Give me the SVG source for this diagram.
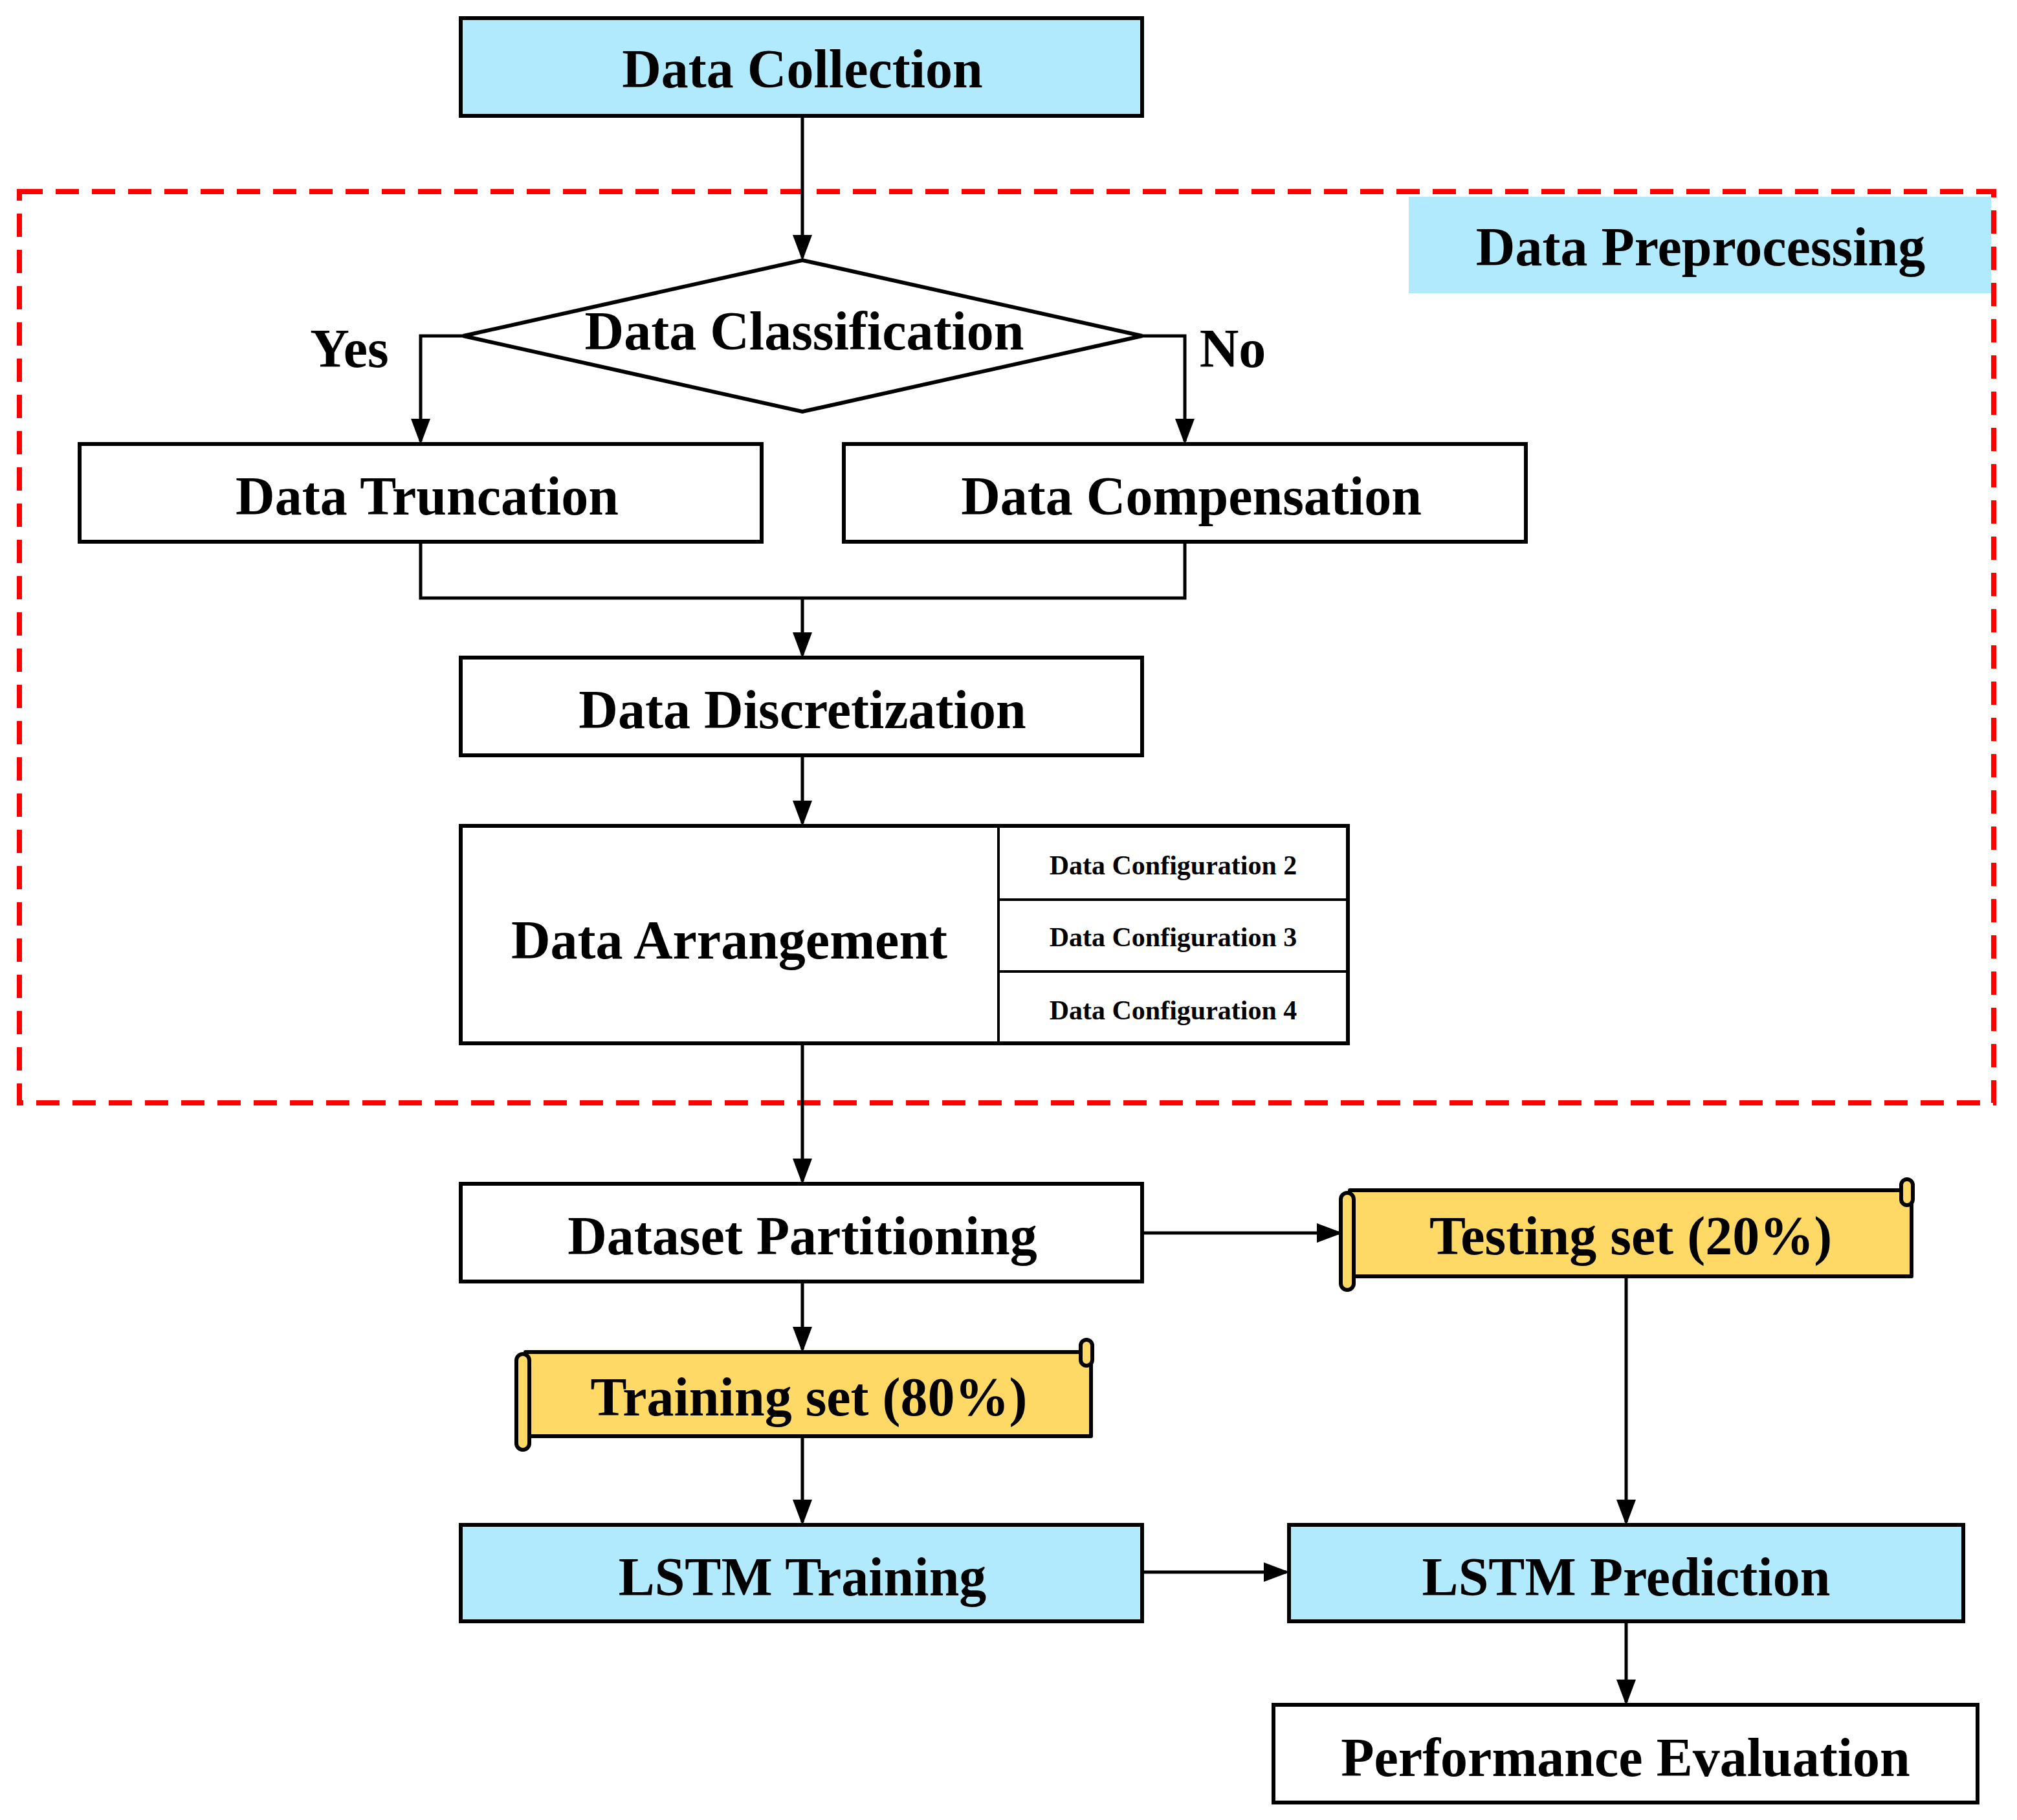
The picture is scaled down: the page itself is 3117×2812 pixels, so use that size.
<svg xmlns="http://www.w3.org/2000/svg" width="3117" height="2812" viewBox="0 0 3117 2812">
<defs>
<marker id="ah" markerWidth="8" markerHeight="8" refX="7" refY="4" orient="auto" markerUnits="strokeWidth"><path d="M0,1 L8,4 L0,7 Z" fill="#000"/></marker>
<style>
.box{stroke:#000;stroke-width:6;fill:#fff}
.blue{fill:#B0EAFC}
.yel{fill:#FFD966;stroke:#000;stroke-width:6;stroke-linejoin:round}
.t{font-family:"Liberation Serif",serif;font-weight:bold;font-size:84px;text-anchor:middle;fill:#000}
.s{font-family:"Liberation Serif",serif;font-weight:bold;font-size:42px;text-anchor:middle;fill:#000}
.c{stroke:#000;stroke-width:5;fill:none}
</style>
</defs>
<rect width="3117" height="2812" fill="#fff"/>
<g id="preprocessing">
<rect x="30" y="296" width="3051" height="1408" fill="none" stroke="#FF0000" stroke-width="8" stroke-dasharray="36,20"/>
<rect x="2177" y="304" width="900" height="149" fill="#B0EAFC"/>
<text class="t" x="2628" y="410">Data Preprocessing</text>
</g>
<g id="connectors">
<path class="c" d="M1240,179 V398" marker-end="url(#ah)"/>
<path class="c" d="M716,519 H650 V682" marker-end="url(#ah)"/>
<path class="c" d="M1765,519 H1831 V682" marker-end="url(#ah)"/>
<path class="c" d="M650,837 V924 H1831 V837"/>
<path class="c" d="M1240,924 V1012" marker-end="url(#ah)"/>
<path class="c" d="M1240,1167 V1272" marker-end="url(#ah)"/>
<path class="c" d="M1240,1612 V1825" marker-end="url(#ah)"/>
<path class="c" d="M1765,1905 V1905 H2070" marker-end="url(#ah)"/>
<path class="c" d="M1240,1980 V2085" marker-end="url(#ah)"/>
<path class="c" d="M2513,1972 V2352" marker-end="url(#ah)"/>
<path class="c" d="M1240,2219 V2352" marker-end="url(#ah)"/>
<path class="c" d="M1765,2429 H1988" marker-end="url(#ah)"/>
<path class="c" d="M2513,2505 V2630" marker-end="url(#ah)"/>
<text class="t" x="540" y="567">Yes</text>
<text class="t" x="1905" y="567">No</text>
</g>
<g id="data-collection"><rect class="box blue" x="712" y="28" width="1053" height="151"/><text class="t" x="1240" y="135">Data Collection</text></g>
<g id="data-classification"><polygon class="box" points="716,519 1240,402 1765,519 1240,636"/><text class="t" x="1243" y="540">Data Classification</text></g>
<g id="data-truncation"><rect class="box" x="123" y="686" width="1054" height="151"/><text class="t" x="660" y="795">Data Truncation</text></g>
<g id="data-compensation"><rect class="box" x="1304" y="686" width="1054" height="151"/><text class="t" x="1841" y="795">Data Compensation</text></g>
<g id="data-discretization"><rect class="box" x="712" y="1016" width="1053" height="151"/><text class="t" x="1240" y="1125">Data Discretization</text></g>
<g id="data-arrangement">
<rect class="box" x="712" y="1276" width="1371" height="336"/>
<path d="M1543,1276 V1612 M1543,1390 H2083 M1543,1501 H2083" stroke="#000" stroke-width="4"/>
<text class="t" x="1127" y="1481">Data Arrangement</text>
<text class="s" x="1813" y="1351">Data Configuration 2</text>
<text class="s" x="1813" y="1462">Data Configuration 3</text>
<text class="s" x="1813" y="1575">Data Configuration 4</text>
</g>
<g id="dataset-partitioning"><rect class="box" x="712" y="1829" width="1053" height="151"/><text class="t" x="1240" y="1938">Dataset Partitioning</text></g>
<g id="testing-set">
<rect class="yel" x="2086" y="1839" width="868" height="133"/>
<rect class="yel" x="2072" y="1843" width="20" height="150" rx="10"/>
<rect class="yel" x="2938" y="1822" width="18" height="40" rx="9"/>
<text class="t" x="2520" y="1938">Testing set (20%)</text>
</g>
<g id="training-set">
<rect class="yel" x="812" y="2089" width="874" height="130"/>
<rect class="yel" x="798" y="2092" width="20" height="148" rx="10"/>
<rect class="yel" x="1670" y="2070" width="18" height="40" rx="9"/>
<text class="t" x="1250" y="2187">Training set (80%)</text>
</g>
<g id="lstm-training"><rect class="box blue" x="712" y="2356" width="1053" height="149"/><text class="t" x="1240" y="2465">LSTM Training</text></g>
<g id="lstm-prediction"><rect class="box blue" x="1992" y="2356" width="1042" height="149"/><text class="t" x="2513" y="2465">LSTM Prediction</text></g>
<g id="performance-evaluation"><rect class="box" x="1968" y="2634" width="1088" height="151"/><text class="t" x="2512" y="2744">Performance Evaluation</text></g>
</svg>
